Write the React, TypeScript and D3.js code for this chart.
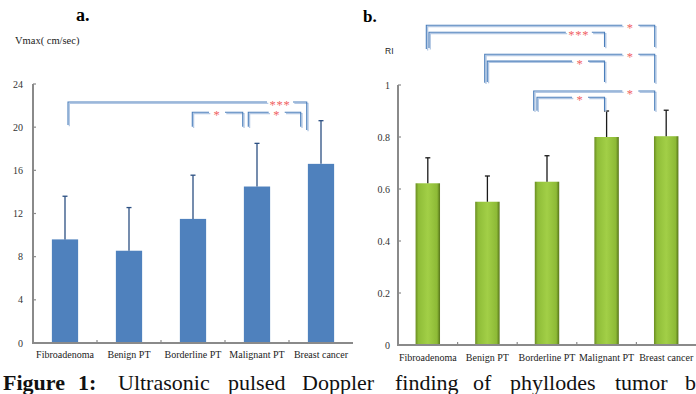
import React from "react";
import * as d3 from "d3";

const categories = ["Fibroadenoma", "Benign PT", "Borderline PT", "Malignant PT", "Breast cancer"];

const vmaxMean = [9.6, 8.55, 11.5, 14.5, 16.6];
const vmaxSD = [4.0, 4.0, 4.05, 4.0, 4.0];
const vmaxTicks = [0, 4, 8, 12, 16, 20, 24];

const riMean = [0.622, 0.551, 0.628, 0.8, 0.803];
const riSD = [0.098, 0.099, 0.1, 0.1, 0.1];
const riTicks = [0, 0.2, 0.4, 0.6, 0.8, 1];

// significance brackets: positions in category units (0..5) and value units
const vmaxBrackets = [
  { x1: 0.547, x2: 4.277, top: 22.33, b1: 20.2, b2: 19.74, star: 3.86, label: "***" },
  { x1: 2.489, x2: 3.277, top: 21.38, b1: 20.05, b2: 20.05, star: 2.875, label: "*" },
  { x1: 3.364, x2: 4.183, top: 21.38, b1: 20.05, b2: 20.05, star: 3.808, label: "*" },
];

const riBrackets = [
  { x1: 0.475, x2: 4.307, top: 1.2296, b1: 1.138, b2: 1.146, star: 3.898, label: "*" },
  { x1: 0.52, x2: 3.465, top: 1.2027, b1: 1.142, b2: 1.146, star: 3.034, label: "***" },
  { x1: 1.455, x2: 4.307, top: 1.118, b1: 1.009, b2: 1.009, star: 3.898, label: "*" },
  { x1: 1.498, x2: 3.465, top: 1.092, b1: 1.012, b2: 1.012, star: 3.054, label: "*" },
  { x1: 2.277, x2: 4.307, top: 0.977, b1: 0.901, b2: 0.901, star: 3.898, label: "*" },
  { x1: 2.332, x2: 3.465, top: 0.953, b1: 0.901, b2: 0.901, star: 3.054, label: "*" },
];

const SERIF = "'Liberation Serif', 'Times New Roman', serif";

type Bracket = { x1: number; x2: number; top: number; b1: number; b2: number; star: number; label: string };

function Panel(props: {
  x0: number; x1: number; y0: number; yTop: number; domainMax: number;
  means: number[]; sds: number[]; ticks: number[]; brackets: Bracket[];
  fill: string; errColor: string; tickFmt: (v: number) => string; labelY: number; tickLabelGap: number;
}) {
  const { x0, x1, y0, yTop, domainMax, means, sds, ticks, brackets, fill, errColor, tickFmt, labelY, tickLabelGap } = props;
  const x = d3.scaleBand<string>().domain(categories).range([x0, x1]).paddingInner(0.59).paddingOuter(0.295);
  const xu = d3.scaleLinear().domain([0, categories.length]).range([x0, x1]);
  const y = d3.scaleLinear().domain([0, domainMax]).range([y0, yTop]);
  const axisColor = "#8a8a8a";
  const bracketColor = "#4a7ebb";
  const shadow = "#b3c8e4";
  return (
    <g>
      {categories.map((c, i) => (
        <rect key={"b" + i} x={x(c)} y={y(means[i])} width={x.bandwidth()} height={y0 - y(means[i])} fill={fill} />
      ))}
      {categories.map((c, i) => {
        const cx = (x(c) as number) + x.bandwidth() / 2;
        return (
          <g key={"e" + i} stroke={errColor} strokeWidth={1.3}>
            <line x1={cx} x2={cx} y1={y(means[i])} y2={y(means[i] + sds[i])} />
            <line x1={cx - 2.5} x2={cx + 2.5} y1={y(means[i] + sds[i])} y2={y(means[i] + sds[i])} />
          </g>
        );
      })}
      <line x1={x0} x2={x0} y1={y0 + 1} y2={y(domainMax)} stroke={axisColor} strokeWidth={2} />
      {ticks.map((t) => (
        <g key={"t" + t}>
          <line x1={x0} x2={x0 + 3} y1={y(t)} y2={y(t)} stroke={axisColor} strokeWidth={1.2} />
          <text x={x0 - tickLabelGap} y={y(t) + 3.5} textAnchor="end" fontFamily={SERIF} fontSize={10} fill="#333">
            {tickFmt(t)}
          </text>
        </g>
      ))}
      <line x1={x0} x2={x1} y1={y0} y2={y0} stroke={axisColor} strokeWidth={2} />
      {d3.range(1, categories.length).map((k) => (
        <line key={"xt" + k} x1={xu(k)} x2={xu(k)} y1={y0} y2={y0 - 3} stroke={axisColor} strokeWidth={1.2} />
      ))}
      {categories.map((c, i) => (
        <text key={"l" + i} x={(x(c) as number) + x.bandwidth() / 2} y={labelY} textAnchor="middle" fontFamily={SERIF} fontSize={10} fill="#222">
          {c}
        </text>
      ))}
      {brackets.map((b, i) => {
        const X1 = xu(b.x1), X2 = xu(b.x2), S = xu(b.star);
        const gap = b.label.length > 1 ? 13 : 8;
        const Yt = y(b.top);
        const p1 = `M${X1},${y(b.b1)}V${Yt}H${S - gap}`;
        const p2 = `M${S + gap},${Yt}H${X2}V${y(b.b2)}`;
        return (
          <g key={"br" + i} fill="none">
            <path d={p1} transform="translate(1.3,1.3)" stroke={shadow} strokeWidth={1.3} />
            <path d={p2} transform="translate(1.3,1.3)" stroke={shadow} strokeWidth={1.3} />
            <path d={p1} stroke={bracketColor} strokeWidth={1.1} />
            <path d={p2} stroke={bracketColor} strokeWidth={1.1} />
            <text x={S} y={Yt + 7} textAnchor="middle" fontFamily={SERIF} fontSize={12.5} fill="#f06262" stroke="none" letterSpacing={0.8}>
              {b.label}
            </text>
          </g>
        );
      })}
    </g>
  );
}

export default function App() {
  const captionWords = [
    { t: "Figure", x: 3, b: true },
    { t: "1:", x: 78, b: true },
    { t: "Ultrasonic", x: 118, b: false },
    { t: "pulsed", x: 228, b: false },
    { t: "Doppler", x: 302, b: false },
    { t: "finding", x: 395, b: false },
    { t: "of", x: 473, b: false },
    { t: "phyllodes", x: 510, b: false },
    { t: "tumor", x: 615, b: false },
    { t: "by", x: 685, b: false },
  ];
  return (
    <svg width={696} height={394} style={{ position: "absolute", left: 0, top: 0, background: "#fff" }}>
      <defs>
        <linearGradient id="gH" x1="0" x2="1" y1="0" y2="0">
          <stop offset="0" stopColor="#6a8d22" />
          <stop offset="0.12" stopColor="#8fbd38" />
          <stop offset="0.5" stopColor="#a2cf47" />
          <stop offset="0.88" stopColor="#8dba36" />
          <stop offset="1" stopColor="#56741a" />
        </linearGradient>
      </defs>
      <rect width={696} height={394} fill="#fff" />
      <text x={76} y={21} fontFamily={SERIF} fontWeight="bold" fontSize={18}>a.</text>
      <text x={15} y={44} fontFamily={SERIF} fontSize={10.5} fill="#222">Vmax( cm/sec)</text>
      <text x={363} y={22} fontFamily={SERIF} fontWeight="bold" fontSize={17}>b.</text>
      <text x={385} y={54} fontFamily="'Liberation Sans', Arial, sans-serif" fontSize={8.5} fill="#222">RI</text>
      <Panel x0={33} x1={353} y0={343} yTop={84} domainMax={24} means={vmaxMean} sds={vmaxSD} ticks={vmaxTicks}
        brackets={vmaxBrackets} fill="#4f81bd" errColor="#2b4f82" tickFmt={(v) => String(v)} labelY={358} tickLabelGap={10} />
      <Panel x0={398} x1={696} y0={345} yTop={85} domainMax={1} means={riMean} sds={riSD} ticks={riTicks}
        brackets={riBrackets} fill="url(#gH)" errColor="#1a1a1a" tickFmt={(v) => String(v)} labelY={361} tickLabelGap={8} />
      <text y={390} fontFamily={SERIF} fontSize={22} fill="#111">
        {captionWords.map((w, i) => (
          <tspan key={i} x={w.x} fontWeight={w.b ? "bold" : "normal"}>{w.t}</tspan>
        ))}
      </text>
    </svg>
  );
}
